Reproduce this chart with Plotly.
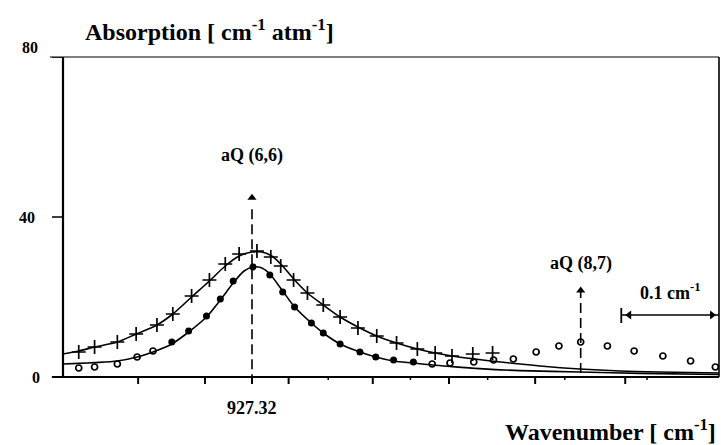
import plotly.graph_objects as go

# ---------------- data (wavenumber in cm-1, absorption in cm-1 atm-1) ----------------
cross_x = [927.145, 927.161, 927.184, 927.203, 927.224, 927.240, 927.259, 927.277, 927.293,
           927.307, 927.325, 927.339, 927.349, 927.362, 927.376, 927.392, 927.409, 927.427,
           927.446, 927.466, 927.487, 927.505, 927.522, 927.543, 927.563]
cross_y = [6.25, 7.5, 8.75, 10.75, 13.0, 15.75, 20.25, 24.25, 28.25,
           30.75, 31.5, 30.0, 27.75, 24.25, 21.0, 18.0, 15.0, 12.25,
           10.25, 8.5, 7.0, 6.0, 5.25, 5.75, 6.0]

dot_x = [927.239, 927.256, 927.274, 927.288, 927.301, 927.321, 927.338, 927.351,
         927.363, 927.380, 927.392, 927.409, 927.429, 927.445, 927.463, 927.483]
dot_y = [8.75, 11.5, 15.25, 19.5, 24.0, 27.5, 25.5, 21.25,
         17.5, 13.5, 11.0, 8.25, 6.25, 5.0, 4.25, 3.75]

open_x = [927.145, 927.161, 927.184, 927.204, 927.220,
          927.502, 927.520, 927.544, 927.564, 927.584, 927.607, 927.630, 927.652,
          927.679, 927.706, 927.735, 927.763, 927.788]
open_y = [2.25, 2.5, 3.25, 5.0, 6.5,
          3.25, 3.5, 3.75, 4.25, 4.5, 6.25, 7.75, 8.75,
          7.75, 6.5, 5.25, 4.0, 2.5]

upper_fit_x = [927.129, 927.145, 927.161, 927.184, 927.203, 927.224, 927.240, 927.259, 927.277,
               927.293, 927.307, 927.320, 927.330, 927.340, 927.350, 927.363, 927.376, 927.392,
               927.409, 927.427, 927.446, 927.466, 927.487, 927.505, 927.522, 927.545, 927.571,
               927.611, 927.651, 927.692, 927.732, 927.794]
upper_fit_y = [5.75, 6.5, 7.5, 8.75, 10.75, 13.0, 15.75, 20.0, 24.0,
               27.75, 30.25, 31.25, 31.25, 30.25, 28.0, 24.25, 21.0, 18.0,
               15.0, 12.5, 10.25, 8.5, 7.0, 6.0, 5.25, 4.5, 3.75,
               2.75, 2.0, 1.5, 1.25, 1.0]

lower_fit_x = [927.129, 927.145, 927.161, 927.184, 927.204, 927.220, 927.239, 927.256, 927.274,
               927.288, 927.301, 927.312, 927.321, 927.330, 927.338, 927.351, 927.363, 927.380,
               927.392, 927.409, 927.429, 927.445, 927.463, 927.483, 927.502, 927.522, 927.550,
               927.591, 927.651, 927.712, 927.794]
lower_fit_y = [3.25, 3.4, 3.6, 4.0, 5.0, 6.25, 8.25, 11.25, 15.0,
               19.25, 23.5, 26.5, 27.5, 27.25, 25.75, 21.5, 17.5, 13.5,
               11.0, 8.25, 6.25, 5.0, 4.0, 3.5, 3.0, 2.6, 2.1,
               1.6, 1.25, 0.9, 0.6]

major_ticks = [927.205, 927.2725, 927.32, 927.357, 927.442, 927.519, 927.606, 927.697]
minor_ticks = [927.397, 927.480, 927.558, 927.636, 927.719]
y_ticks = [0, 40, 80]
y_tick_labels = ["0", "40", "80"]

line6_6 = 927.32
line8_7 = 927.652
scale_left, scale_right = 927.693, 927.7917

X_RANGE = [927.1291, 927.7917]
Y_RANGE = [0, 80]
FONT = "Times New Roman"
BLACK = "black"
PLOT_W, PLOT_H = 656, 320

fig = go.Figure()
for fx, fy in [(upper_fit_x, upper_fit_y), (lower_fit_x, lower_fit_y)]:
    fig.add_trace(go.Scatter(x=fx, y=fy, mode="lines",
                             line=dict(color=BLACK, width=1.6, shape="spline", smoothing=0.8),
                             showlegend=False, hoverinfo="skip"))
fig.add_trace(go.Scatter(x=cross_x, y=cross_y, mode="markers",
                         marker=dict(symbol="cross-thin-open", size=10, color=BLACK,
                                     line=dict(color=BLACK, width=1.7)),
                         showlegend=False))
fig.add_trace(go.Scatter(x=dot_x, y=dot_y, mode="markers",
                         marker=dict(symbol="circle", size=7, color=BLACK), showlegend=False))
fig.add_trace(go.Scatter(x=open_x, y=open_y, mode="markers",
                         marker=dict(symbol="circle-open", size=6, color=BLACK,
                                     line=dict(color=BLACK, width=1.7)),
                         showlegend=False))

# frame
fig.add_shape(type="line", xref="paper", yref="paper", x0=0, x1=0, y0=0, y1=1, line=dict(color=BLACK, width=2.2))
fig.add_shape(type="line", xref="paper", yref="paper", x0=-0.017, x1=1, y0=0, y1=0, line=dict(color=BLACK, width=1.8))
fig.add_shape(type="line", xref="paper", yref="paper", x0=-0.02, x1=1, y0=1, y1=1, line=dict(color=BLACK, width=1.2))
fig.add_shape(type="line", xref="paper", yref="paper", x0=1, x1=1, y0=0, y1=1, line=dict(color=BLACK, width=1.6))

# x ticks (drawn in data coordinates on the x axis)
for t in major_ticks:
    fig.add_shape(type="line", xref="x", yref="paper", x0=t, x1=t, y0=0, y1=-7 / PLOT_H,
                  line=dict(color=BLACK, width=2))
for t in minor_ticks:
    fig.add_shape(type="line", xref="x", yref="paper", x0=t, x1=t, y0=0, y1=-3 / PLOT_H,
                  line=dict(color=BLACK, width=1.5))
# y ticks
for t in y_ticks:
    fig.add_shape(type="line", xref="paper", yref="y", x0=0, x1=-11 / PLOT_W, y0=t, y1=t,
                  line=dict(color=BLACK, width=1.5))

# aQ(6,6) dashed marker line (extends a little below the axis)
fig.add_shape(type="line", xref="x", yref="y", x0=line6_6, x1=line6_6, y0=-1.8, y1=43,
              line=dict(color=BLACK, width=1.6, dash="10px,5px"))
# aQ(8,7) marker line
fig.add_shape(type="line", xref="x", yref="y", x0=line8_7, x1=line8_7, y0=1.0, y1=21.5,
              line=dict(color=BLACK, width=1.6, dash="10px,5px"))
# 0.1 cm-1 scale bar
fig.add_shape(type="line", xref="x", yref="y", x0=scale_left, x1=scale_left, y0=13.5, y1=17.25,
              line=dict(color=BLACK, width=1.8))
fig.add_shape(type="line", xref="x", yref="y", x0=scale_left, x1=scale_right, y0=15.5, y1=15.5,
              line=dict(color=BLACK, width=1.4))

# arrowheads
arrow_x = [line6_6, line6_6, line8_7, scale_left + 0.008, scale_right - 0.007]
arrow_y = [44.8, -3.2, 21.6, 15.5, 15.5]
arrow_sym = ["triangle-up", "triangle-down", "triangle-up", "triangle-left", "triangle-right"]
fig.add_trace(go.Scatter(x=arrow_x, y=arrow_y, mode="markers", cliponaxis=False,
                         marker=dict(symbol=arrow_sym, size=8, color=BLACK), showlegend=False,
                         hoverinfo="skip"))


def txt(x, y, text, size=14, xref="x", yref="y", xanchor="center"):
    fig.add_annotation(x=x, y=y, xref=xref, yref=yref, text=text, showarrow=False,
                       xanchor=xanchor, yanchor="middle",
                       font=dict(family=FONT, size=size, color=BLACK))


txt(line6_6, 55.5, "<b>aQ (6,6)</b>", 18)
txt(line6_6, -0.097, "<b>927.32</b>", 18, yref="paper")
txt(line8_7, 28.5, "<b>aQ (8,7)</b>", 18)
txt(927.742, 21.5, "<b>0.1 cm<sup>-1</sup></b>", 18)

# titles
txt((83 - 63) / PLOT_W, (377 - 30) / PLOT_H, "<b>Absorption [ cm<sup>-1</sup> atm<sup>-1</sup>]</b>", 24,
    xref="paper", yref="paper", xanchor="left")
txt((718 - 63) / PLOT_W, (377 - 430) / PLOT_H, "<b>Wavenumber [ cm<sup>-1</sup>]</b>", 24,
    xref="paper", yref="paper", xanchor="right")

# y tick labels
label_pos = {"0": (36, 377), "40": (27, 217), "80": (30, 47)}
for v, lab in zip(y_ticks, y_tick_labels):
    px, py = label_pos[lab]
    txt((px - 63) / PLOT_W, (377 - py) / PLOT_H, "<b>" + lab + "</b>", 16, xref="paper", yref="paper")

fig.update_layout(
    width=721, height=445,
    margin=dict(l=63, r=2, t=57, b=68),
    paper_bgcolor="white", plot_bgcolor="white",
    font=dict(family=FONT, color=BLACK),
    showlegend=False,
    xaxis=dict(range=X_RANGE, showgrid=False, zeroline=False, showline=False,
               showticklabels=False, ticks=""),
    yaxis=dict(range=Y_RANGE, showgrid=False, zeroline=False, showline=False,
               showticklabels=False, ticks=""),
)

fig.write_html("out.html")
